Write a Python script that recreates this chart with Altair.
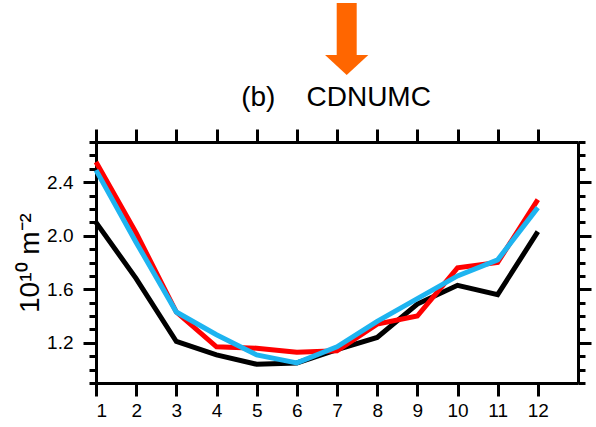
import altair as alt
import pandas as pd

months = [1, 2, 3, 4, 5, 6, 7, 8, 9, 10, 11, 12]
black_vals = [2.10, 1.68, 1.21, 1.11, 1.04, 1.05, 1.15, 1.24, 1.49, 1.63, 1.56, 2.03]
red_vals = [2.55, 2.02, 1.43, 1.17, 1.16, 1.13, 1.14, 1.34, 1.40, 1.76, 1.80, 2.27]
cyan_vals = [2.49, 1.95, 1.43, 1.26, 1.11, 1.05, 1.17, 1.36, 1.53, 1.70, 1.82, 2.21]

series_names = ["black", "red", "cyan"]
series_colors = ["#000000", "#FF0000", "#1EB4F0"]

x_ticks = [1, 2, 3, 4, 5, 6, 7, 8, 9, 10, 11, 12]
y_major = [1.2, 1.6, 2.0, 2.4]
y_minor = [0.9, 1.0, 1.1, 1.2, 1.3, 1.4, 1.5, 1.6, 1.7, 1.8, 1.9, 2.0,
           2.1, 2.2, 2.3, 2.4, 2.5, 2.6, 2.7]
x_domain = [1, 13]
y_domain = [0.9, 2.7]

title_text = "(b)\u00a0\u00a0\u00a0\u00a0CDNUMC"
y_title = "10\u00b9\u2070 m\u207b\u00b2"

rows = []
for name, vals in zip(series_names, [black_vals, red_vals, cyan_vals]):
    for m, v in zip(months, vals):
        rows.append({"month": m, "value": v, "series": name})
df = pd.DataFrame(rows)

LABEL_FONT = "Liberation Sans"
common_axis = dict(domainColor="black", domainWidth=3, tickColor="black",
                   tickWidth=3, grid=False, labelColor="black")

xs = alt.Scale(domain=x_domain, nice=False, zero=False)
ys = alt.Scale(domain=y_domain, nice=False, zero=False)
cs = alt.Scale(domain=series_names, range=series_colors)


def line_layer(name, xaxis, yaxis, opacity=1.0):
    return alt.Chart(df).transform_filter(
        alt.datum.series == name
    ).mark_line(strokeWidth=5, opacity=opacity, strokeJoin="miter").encode(
        x=alt.X("month:Q", scale=xs, axis=xaxis),
        y=alt.Y("value:Q", scale=ys, axis=yaxis),
        color=alt.Color("series:N", scale=cs, legend=None),
    )


x_bottom = alt.Axis(orient="bottom", values=x_ticks, tickSize=13, labelFontSize=19,
                    labelFont=LABEL_FONT, labelPadding=5, title=None, format="d",
                    **common_axis)
x_top = alt.Axis(orient="top", values=x_ticks, tickSize=13, labels=False, title=None,
                 **common_axis)
y_left_major = alt.Axis(orient="left", values=y_major, tickSize=13, labelFontSize=19,
                        labelFont=LABEL_FONT, labelPadding=10, format=".1f",
                        title=y_title, titleFontSize=28, titleFont=LABEL_FONT,
                        titleFontWeight="normal", titleColor="black", titlePadding=2,
                        **common_axis)
y_left_minor = alt.Axis(orient="left", values=y_minor, tickSize=7, labels=False,
                        title=None, **common_axis)
y_right_major = alt.Axis(orient="right", values=y_major, tickSize=13, labels=False,
                         title=None, **common_axis)
y_right_minor = alt.Axis(orient="right", values=y_minor, tickSize=7, labels=False,
                         title=None, **common_axis)

l_black = line_layer("black", x_bottom, y_left_major)
l_red = line_layer("red", x_top, y_left_minor)
l_cyan = line_layer("cyan", None, y_right_major)
l_ghost = line_layer("cyan", None, y_right_minor, opacity=0)

one = alt.Data(values=[{}])
arrow_shaft = alt.Chart(one).mark_rule(color="#FF6600", strokeWidth=20, strokeCap="butt").encode(
    x=alt.value(250.7), y=alt.value(-139), y2=alt.value(-86)
)
arrow_head = alt.Chart(one).mark_point(
    shape="M-1,-0.465L1,-0.465L0,0.465Z", filled=True, color="#FF6600", opacity=1,
    size=1870,
).encode(x=alt.value(250.7), y=alt.value(-77))
title_mark = alt.Chart(one).mark_text(
    text=title_text, font=LABEL_FONT, fontSize=28, color="black",
    align="center", baseline="alphabetic",
).encode(x=alt.value(240), y=alt.value(-36))

chart = alt.layer(
    l_black, l_red, l_cyan, l_ghost, arrow_shaft, arrow_head, title_mark
).resolve_axis(
    x="independent", y="independent"
).properties(
    width=482, height=241,
    autosize="none",
    padding={"left": 96, "top": 142, "right": 18, "bottom": 44},
).configure_view(stroke=None)

chart.save("out.html", embed_options={"renderer": "svg", "actions": False})
